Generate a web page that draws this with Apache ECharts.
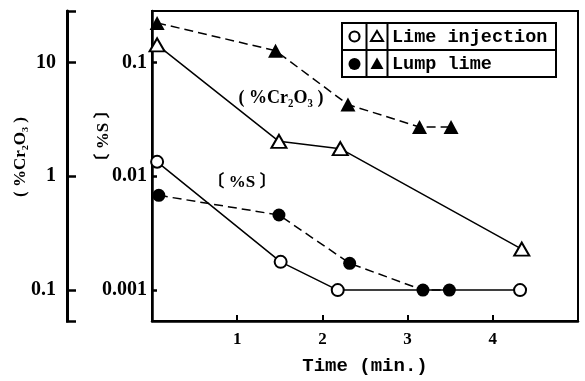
<!DOCTYPE html>
<html>
<head>
<meta charset="utf-8">
<script src="https://cdn.jsdelivr.net/npm/echarts@6/dist/echarts.min.js"></script>
<style>
  html, body { margin: 0; padding: 0; background: #fff; }
  #chart { width: 585px; height: 381px; }
</style>
</head>
<body>
<div id="chart"></div>
<script>
// Lime injection, [%S]
const limeInjTimeS = [0.06, 1.51, 2.18, 4.32];
const limeInjS = [0.0134, 0.00177, 0.001, 0.001];
// Lump lime, [%S]
const lumpTimeS = [0.08, 1.49, 2.32, 3.18, 3.49];
const lumpS = [0.0068, 0.00457, 0.00172, 0.001, 0.001];
// Lime injection, (%Cr2O3)
const limeInjTimeCr = [0.06, 1.49, 2.21, 4.34];
const limeInjCr = [14.3, 2.03, 1.75, 0.229];
// Lump lime, (%Cr2O3)
const lumpTimeCr = [0.06, 1.45, 2.30, 3.14, 3.51];
const lumpCr = [22.3, 12.7, 4.27, 2.71, 2.71];

const xTicks = [1, 2, 3, 4];
const sTicks = [0.001, 0.01, 0.1];
const crTicks = [0.1, 1, 10];

const serif = "'Liberation Serif', 'DejaVu Serif', 'Noto Sans CJK JP', serif";
const mono = "'Liberation Mono', monospace";

const pairs = (xs, ys) => xs.map((x, i) => [x, ys[i]]);
const fmtTick = (list) => (v) => {
  const hit = list.find((t) => Math.abs(Math.log10(v) - Math.log10(t)) < 1e-6);
  return hit === undefined ? "" : String(hit);
};
const crText = "( %Cr₂O₃ )";
const sText = "〔 %S 〕";

const chart = echarts.init(document.getElementById("chart"));
chart.setOption({
  backgroundColor: "#fff",
  animation: false,
  grid: {
    left: 152,
    right: 7,
    top: 11,
    bottom: 59,
    show: true,
    borderColor: "#000",
    borderWidth: 2
  },
  xAxis: {
    type: "value",
    min: 0,
    max: 5,
    interval: 1,
    name: "Time (min.)",
    nameLocation: "middle",
    nameGap: 36,
    nameTextStyle: { color: "#000", fontFamily: mono, fontWeight: "bold", fontSize: 19 },
    axisLine: { lineStyle: { color: "#000", width: 2.5 } },
    axisTick: { inside: true, length: 6, lineStyle: { color: "#000", width: 2 } },
    splitLine: { show: false },
    axisLabel: {
      color: "#000",
      fontFamily: serif,
      fontWeight: "bold",
      fontSize: 17,
      margin: 10,
      formatter: (v) => (xTicks.includes(v) ? String(v) : "")
    }
  },
  yAxis: [
    {
      type: "log",
      min: 0.000535,
      max: 0.2836,
      position: "left",
      axisLine: { show: true, lineStyle: { color: "#000", width: 2.5 } },
      axisTick: { show: true, inside: true, length: 5, lineStyle: { color: "#000", width: 2.5 } },
      splitLine: { show: false },
      minorTick: { show: false },
      axisLabel: {
        color: "#000",
        fontFamily: serif,
        fontWeight: "bold",
        fontSize: 20,
        margin: 5,
        showMinLabel: false,
        showMaxLabel: false,
        formatter: fmtTick(sTicks)
      }
    },
    {
      type: "log",
      min: 0.0535,
      max: 28.36,
      position: "left",
      offset: 85,
      axisLine: { show: true, lineStyle: { color: "#000", width: 3 } },
      axisTick: { show: true, inside: true, length: 9, lineStyle: { color: "#000", width: 2.5 } },
      splitLine: { show: false },
      minorTick: { show: false },
      axisLabel: {
        color: "#000",
        fontFamily: serif,
        fontWeight: "bold",
        fontSize: 20,
        margin: 11,
        showMinLabel: false,
        showMaxLabel: false,
        formatter: fmtTick(crTicks)
      }
    }
  ],
  series: [
    {
      name: "Lime injection [%S]",
      type: "line",
      yAxisIndex: 0,
      data: pairs(limeInjTimeS, limeInjS),
      symbol: "circle",
      symbolSize: 12,
      lineStyle: { color: "#000", width: 1.5 },
      itemStyle: { color: "#fff", borderColor: "#000", borderWidth: 2 }
    },
    {
      name: "Lump lime [%S]",
      type: "line",
      yAxisIndex: 0,
      data: pairs(lumpTimeS, lumpS),
      symbol: "circle",
      symbolSize: 13,
      lineStyle: { color: "#000", width: 1.5, type: [9, 5] },
      itemStyle: { color: "#000", borderColor: "#000", borderWidth: 0 }
    },
    {
      name: "Lime injection (%Cr2O3)",
      type: "line",
      yAxisIndex: 1,
      data: pairs(limeInjTimeCr, limeInjCr),
      symbol: "triangle",
      symbolSize: [15, 13],
      lineStyle: { color: "#000", width: 1.5 },
      itemStyle: { color: "#fff", borderColor: "#000", borderWidth: 2 }
    },
    {
      name: "Lump lime (%Cr2O3)",
      type: "line",
      yAxisIndex: 1,
      data: pairs(lumpTimeCr, lumpCr),
      symbol: "triangle",
      symbolSize: [15, 14],
      lineStyle: { color: "#000", width: 1.5, type: [9, 5] },
      itemStyle: { color: "#000", borderColor: "#000", borderWidth: 0 }
    }
  ],
  graphic: [
    // bracket ends of the outer (%Cr2O3) axis
    { type: "line", shape: { x1: 66, y1: 11.5, x2: 76, y2: 11.5 }, style: { stroke: "#000", lineWidth: 2.5 } },
    { type: "line", shape: { x1: 66, y1: 321.5, x2: 76, y2: 321.5 }, style: { stroke: "#000", lineWidth: 2.5 } },
    // axis titles
    {
      type: "text", x: 21, y: 157, rotation: Math.PI / 2,
      style: { text: crText, font: "bold 17px " + serif, fill: "#000", align: "center", verticalAlign: "middle" }
    },
    {
      type: "text", x: 104, y: 136, rotation: Math.PI / 2,
      style: { text: sText, font: "bold 17px " + serif, fill: "#000", align: "center", verticalAlign: "middle" }
    },
    // curve labels
    {
      type: "text", x: 281, y: 98,
      style: { text: crText, font: "bold 18px " + serif, fill: "#000", align: "center", verticalAlign: "middle" }
    },
    {
      type: "text", x: 242, y: 183,
      style: { text: sText, font: "bold 17px " + serif, fill: "#000", align: "center", verticalAlign: "middle" }
    },
    // legend table
    {
      type: "rect", shape: { x: 342, y: 23, width: 214, height: 54 },
      style: { fill: "#fff", stroke: "#000", lineWidth: 2 }, z: 10
    },
    { type: "line", shape: { x1: 342, y1: 50, x2: 556, y2: 50 }, style: { stroke: "#000", lineWidth: 2 }, z: 11 },
    { type: "line", shape: { x1: 366.5, y1: 23, x2: 366.5, y2: 77 }, style: { stroke: "#000", lineWidth: 2 }, z: 11 },
    { type: "line", shape: { x1: 387.5, y1: 23, x2: 387.5, y2: 77 }, style: { stroke: "#000", lineWidth: 2 }, z: 11 },
    { type: "circle", shape: { cx: 354.5, cy: 36.5, r: 5 }, style: { fill: "#fff", stroke: "#000", lineWidth: 2.2 }, z: 11 },
    { type: "polygon", shape: { points: [[377, 31], [383, 41], [371, 41]] }, style: { fill: "#fff", stroke: "#000", lineWidth: 2 }, z: 11 },
    { type: "circle", shape: { cx: 354.5, cy: 64, r: 6 }, style: { fill: "#000" }, z: 11 },
    { type: "polygon", shape: { points: [[377, 57.5], [383.5, 69], [370.5, 69]] }, style: { fill: "#000" }, z: 11 },
    {
      type: "text", x: 392, y: 37, z: 11,
      style: { text: "Lime injection", font: "bold 18.5px " + mono, fill: "#000", align: "left", verticalAlign: "middle" }
    },
    {
      type: "text", x: 392, y: 64, z: 11,
      style: { text: "Lump lime", font: "bold 18.5px " + mono, fill: "#000", align: "left", verticalAlign: "middle" }
    }
  ]
});
</script>
</body>
</html>
